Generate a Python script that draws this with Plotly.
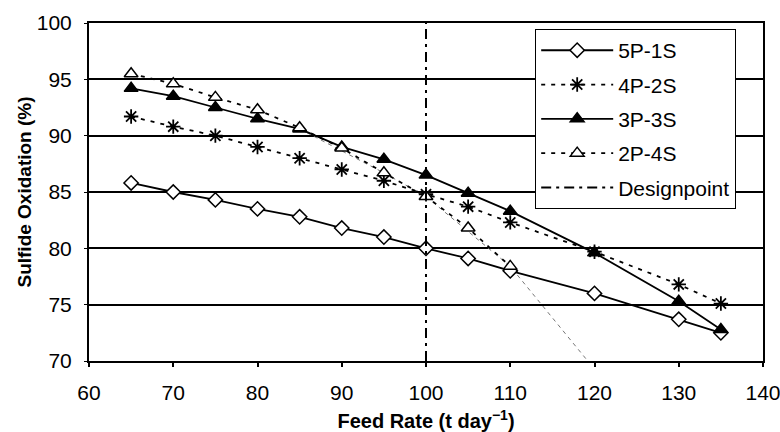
import plotly.graph_objects as go

feed = [65, 70, 75, 80, 85, 90, 95, 100, 105, 110, 120, 130, 135]
s5p1s = [85.8, 85.0, 84.3, 83.5, 82.8, 81.8, 81.0, 80.0, 79.1, 78.0, 76.0, 73.7, 72.5]
s4p2s = [91.7, 90.8, 90.0, 89.0, 88.0, 87.0, 86.0, 84.8, 83.7, 82.3, 79.7, 76.8, 75.1]
s3p3s = [94.2, 93.5, 92.5, 91.5, 90.6, 89.0, 87.9, 86.5, 84.9, 83.3, 79.6, 75.3, 72.8]
feed_2p4s = [65, 70, 75, 80, 85, 90, 95, 100, 105, 110]
s2p4s = [95.5, 94.6, 93.4, 92.3, 90.7, 88.9, 86.7, 84.6, 81.8, 78.4]
trend_x = [85, 95, 100, 110, 119.2]
trend_y = [90.6, 86.7, 84.6, 78.4, 70.0]
design_x = [100, 100]
design_y = [70, 100]

FONT = "Liberation Sans, Arial, sans-serif"
fig = go.Figure()

def add(name, x, y, symbol, dash, mcolor, mline=1.5, size=10):
    fig.add_trace(go.Scatter(
        x=x, y=y, name=name, mode="lines+markers", legendgroup=name,
        line=dict(color="black", width=1.8, dash=dash),
        marker=dict(symbol=symbol, size=size, color=mcolor,
                    line=dict(color="black", width=mline)),
    ))

fig.add_trace(go.Scatter(x=trend_x, y=trend_y, mode="lines", showlegend=False,
                         line=dict(color="#777777", width=1, dash="4px,4px"),
                         hoverinfo="skip"))
add("5P-1S", feed, s5p1s, "diamond", "solid", "white", size=11)
add("4P-2S", feed, s4p2s, "asterisk-open", "4px,6px", "black", mline=1.8, size=12)
add("3P-3S", feed, s3p3s, "triangle-up", "solid", "black", size=12)
add("2P-4S", feed_2p4s, s2p4s, "triangle-up", "4px,6px", "white", size=12)
fig.add_trace(go.Scatter(x=design_x, y=design_y, name="Designpoint", mode="lines",
                         legendgroup="Designpoint",
                         line=dict(color="black", width=2, dash="10px,5px,3px,5px")))

fig.update_layout(
    width=780, height=432,
    margin=dict(l=89, r=17, t=23, b=71, autoexpand=False),
    paper_bgcolor="white", plot_bgcolor="white",
    font=dict(family=FONT, color="black", size=21),
    legend=dict(x=0.662, y=0.982, xanchor="left", yanchor="top",
                bgcolor="white", bordercolor="black", borderwidth=1,
                font=dict(size=21), tracegroupgap=4, itemwidth=72),
    xaxis=dict(range=[60, 140], dtick=10, showgrid=False, showline=True,
               linecolor="black", linewidth=2, mirror=True, ticks="outside",
               ticklen=4, tickwidth=1.5, tickcolor="black", zeroline=False,
               ticklabelstandoff=8, automargin=False, ticklabeloverflow="allow",
               title=dict(text="<b>Feed Rate (t day<sup>−1</sup>)</b>",
                          font=dict(size=20))),
    yaxis=dict(range=[70, 100], dtick=5, showgrid=True, gridcolor="black",
               gridwidth=1.5, showline=True, linecolor="black", linewidth=2,
               mirror=True, ticks="outside", ticklen=3, tickcolor="black",
               zeroline=False, ticklabelstandoff=8, automargin=False,
               title=dict(text="<b>Sulfide Oxidation (%)</b>",
                          font=dict(size=19), standoff=0)),
)

fig.write_html("out.html")
